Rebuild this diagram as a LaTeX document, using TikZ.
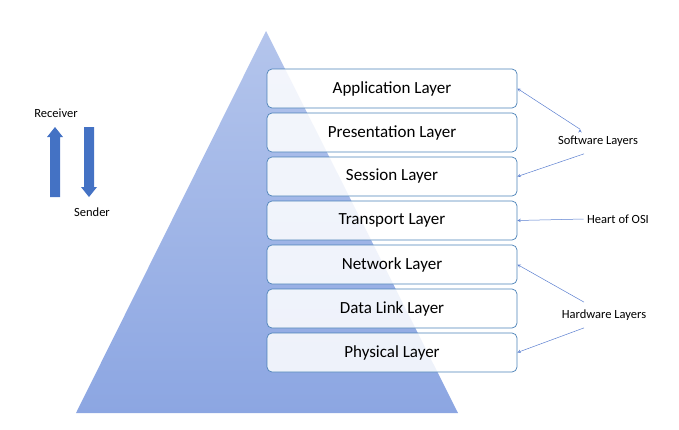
\documentclass[tikz,border=0pt]{standalone}
\usepackage{fontspec}
\setmainfont{Carlito}
\begin{document}
\begin{tikzpicture}[x=1pt,y=-1pt,
  layer/.style={draw=blue!50!cyan!60!black!70, line width=0.7pt, rounded corners=5pt, fill=white, fill opacity=0.85, text opacity=1, minimum width=250pt, minimum height=39pt, font=\fontsize{17}{20}\selectfont},
  lab/.style={font=\fontsize{12.5}{15}\selectfont},
  pt/.style={draw=blue!60!cyan!70!black!60, line width=0.5pt, -stealth}]
\definecolor{barblue}{HTML}{4472C4}
\definecolor{lineblue}{HTML}{5B7FD0}
\useasboundingbox (0,0) rectangle (679,429);
\shade[top color={rgb,255:red,180;green,197;blue,236}, bottom color={rgb,255:red,140;green,166;blue,226}] (266,31) -- (458,413) -- (76,413) -- cycle;
\foreach \n/\t [count=\i from 0] in {app/Application Layer,pre/Presentation Layer,ses/Session Layer,tra/Transport Layer,net/Network Layer,dl/Data Link Layer,phy/Physical Layer}
  \node[layer] (\n) at (392,{88.5+44*\i}) {\t};
\fill[barblue] (50,197) -- (50,137) -- (47,137) -- (55,127) -- (63,137) -- (60,137) -- (60,197) -- cycle;
\fill[barblue] (84,127) -- (84,187) -- (81,187) -- (89,197) -- (97,187) -- (94,187) -- (94,127) -- cycle;
\node[lab] (rec) at (56,113) {Receiver};
\node[lab] (snd) at (92,212) {Sender};
\node[lab] (sw) at (598,141) {Software Layers};
\node[lab] (hw) at (604,315) {Hardware Layers};
\node[lab] (hoi) at (618,219) {Heart of OSI};
\draw[pt, draw=lineblue] (sw.north) ++(-18,-3) coordinate (s1);
\draw[-stealth, draw=lineblue, line width=0.5pt] (s1) -- (app.east);
\draw[-stealth, draw=lineblue, line width=0.5pt] (sw.south) ++(-14,4) coordinate (s2) -- (ses.east);
\draw[-stealth, draw=lineblue, line width=0.5pt] (hoi.west) -- (tra.east);
\draw[-stealth, draw=lineblue, line width=0.5pt] (hw.north) ++(-20,-4) coordinate (h1) -- (net.east);
\draw[-stealth, draw=lineblue, line width=0.5pt] (hw.south) ++(-20,4) coordinate (h2) -- (phy.east);
\end{tikzpicture}
\end{document}
